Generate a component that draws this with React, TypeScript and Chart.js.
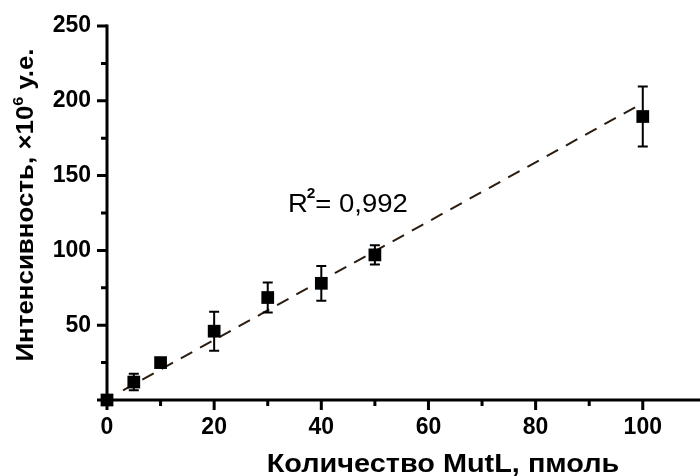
import React, { useEffect, useRef } from "react";
import { Chart, registerables } from "chart.js";

Chart.register(...registerables);

// ---- data ----
const xValues = [0, 5, 10, 20, 30, 40, 50, 100];
const yValues = [0, 12, 25, 46, 68.5, 78, 97, 189.5];
const yErrors = [0, 5.5, 1.5, 13, 10, 11.6, 6.5, 20];
const fitX = [3, 100];
const fitY = [6.5, 198.5];
const xTickLabels = [0, 20, 40, 60, 80, 100];
const xMinorTicks = [10, 30, 50, 70, 90];
const yTickLabels = [50, 100, 150, 200, 250];
const yMajorTicks = [0, 50, 100, 150, 200, 250];
const yMinorTicks = [25, 75, 125, 175, 225];
const xTitle = "Количество MutL, пмоль";
const yTitleParts = ["Интенсивность, ×10", "6", " у.е."];
const r2Parts = ["R", "2", "= 0,992"];

const FONT = "'Liberation Sans', Arial, sans-serif";

type Part = { text: string; font: string; dy: number; dx?: number };

function partsWidth(ctx: CanvasRenderingContext2D, parts: Part[]) {
  let w = 0;
  for (const p of parts) {
    ctx.font = p.font;
    w += ctx.measureText(p.text).width + (p.dx || 0);
  }
  return w;
}

function drawParts(ctx: CanvasRenderingContext2D, parts: Part[], x: number, y: number) {
  let cx = x;
  for (const p of parts) {
    cx += p.dx || 0;
    ctx.font = p.font;
    ctx.fillText(p.text, cx, y + p.dy);
    cx += ctx.measureText(p.text).width;
  }
}

const decorPlugin = {
  id: "decor",
  afterDatasetsDraw(chart: any) {
    const ctx: CanvasRenderingContext2D = chart.ctx;
    const xs = chart.scales.x;
    const ys = chart.scales.y;
    ctx.save();
    ctx.strokeStyle = "#000";
    ctx.lineWidth = 2;
    xValues.forEach((xv, i) => {
      const e = yErrors[i];
      if (!e) return;
      const px = xs.getPixelForValue(xv);
      const top = ys.getPixelForValue(yValues[i] + e);
      const bot = ys.getPixelForValue(yValues[i] - e);
      ctx.beginPath();
      ctx.moveTo(px, top);
      ctx.lineTo(px, bot);
      ctx.moveTo(px - 5, top);
      ctx.lineTo(px + 5, top);
      ctx.moveTo(px - 5, bot);
      ctx.lineTo(px + 5, bot);
      ctx.stroke();
    });
    ctx.restore();
  },
  afterDraw(chart: any) {
    const ctx: CanvasRenderingContext2D = chart.ctx;
    const xs = chart.scales.x;
    const ys = chart.scales.y;
    const area = chart.chartArea;
    ctx.save();
    ctx.strokeStyle = "#000";
    ctx.fillStyle = "#000";
    ctx.lineWidth = 3;
    ctx.lineCap = "butt";
    // axis lines
    ctx.beginPath();
    ctx.moveTo(area.left, ys.getPixelForValue(250) - 1.5);
    ctx.lineTo(area.left, area.bottom + 1.5);
    ctx.moveTo(area.left - 1.5, area.bottom);
    ctx.lineTo(chart.width, area.bottom);
    ctx.stroke();
    // ticks
    ctx.beginPath();
    yMajorTicks.forEach((v) => {
      const py = ys.getPixelForValue(v);
      ctx.moveTo(area.left, py);
      ctx.lineTo(area.left - 10, py);
    });
    yMinorTicks.forEach((v) => {
      const py = ys.getPixelForValue(v);
      ctx.moveTo(area.left, py);
      ctx.lineTo(area.left - 6, py);
    });
    xTickLabels.forEach((v) => {
      const px = xs.getPixelForValue(v);
      ctx.moveTo(px, area.bottom);
      ctx.lineTo(px, area.bottom + 10);
    });
    xMinorTicks.forEach((v) => {
      const px = xs.getPixelForValue(v);
      ctx.moveTo(px, area.bottom);
      ctx.lineTo(px, area.bottom + 6);
    });
    ctx.stroke();

    // x title
    ctx.textBaseline = "alphabetic";
    ctx.textAlign = "center";
    ctx.font = `bold 26px ${FONT}`;
    ctx.save();
    ctx.translate(443, 472);
    ctx.scale(1.11, 1);
    ctx.fillText(xTitle, 0, 0);
    ctx.restore();

    // y title (rotated)
    ctx.textAlign = "left";
    const yParts: Part[] = [
      { text: yTitleParts[0], font: `bold 24px ${FONT}`, dy: 0 },
      { text: yTitleParts[1], font: `bold 15px ${FONT}`, dy: -10 },
      { text: yTitleParts[2], font: `bold 24px ${FONT}`, dy: 0 },
    ];
    const yw = partsWidth(ctx, yParts);
    ctx.save();
    ctx.translate(33, 205);
    ctx.rotate(-Math.PI / 2);
    ctx.scale(1.08, 1);
    drawParts(ctx, yParts, -yw / 2, 0);
    ctx.restore();

    // R^2 annotation
    const rParts: Part[] = [
      { text: r2Parts[0], font: `25px ${FONT}`, dy: 0 },
      { text: r2Parts[1], font: `bold 14px ${FONT}`, dy: -14, dx: -1 },
      { text: r2Parts[2], font: `25px ${FONT}`, dy: 0, dx: 0 },
    ];
    ctx.save();
    ctx.translate(288, 212);
    ctx.scale(1.1, 1);
    drawParts(ctx, rParts, 0, 0);
    ctx.restore();

    ctx.restore();
  },
};

export default function App() {
  const ref = useRef<HTMLCanvasElement | null>(null);
  useEffect(() => {
    if (!ref.current) return;
    const chart = new Chart(ref.current, {
      type: "scatter",
      data: {
        datasets: [
          {
            type: "scatter",
            data: xValues.map((x, i) => ({ x, y: yValues[i] })),
            pointStyle: "rect",
            pointRadius: 9,
            pointHoverRadius: 9,
            backgroundColor: "#000",
            borderColor: "#000",
            borderWidth: 0,
            clip: false,
            order: 0,
          } as any,
          {
            type: "line",
            data: fitX.map((x, i) => ({ x, y: fitY[i] })),
            borderColor: "#2a1c10",
            borderWidth: 2,
            borderDash: [13, 9],
            pointRadius: 0,
            fill: false,
            order: 1,
          } as any,
        ],
      },
      options: {
        responsive: false,
        animation: false,
        events: [],
        layout: { padding: { top: 26, left: 0, right: 0, bottom: 0 } },
        plugins: {
          legend: { display: false },
          tooltip: { enabled: false },
        },
        scales: {
          x: {
            type: "linear",
            min: 0,
            max: 109,
            afterBuildTicks: (s: any) => {
              s.ticks = xTickLabels.map((v) => ({ value: v }));
            },
            afterFit: (s: any) => {
              s.height = 76;
            },
            grid: { display: false, drawTicks: true, tickLength: 10 },
            border: { display: false },
            ticks: {
              autoSkip: false,
              maxRotation: 0,
              padding: 4,
              color: "#000",
              font: { family: FONT, size: 23, weight: "bold" },
              callback: (v: any) => String(v),
            },
          },
          y: {
            type: "linear",
            min: 0,
            max: 250,
            afterBuildTicks: (s: any) => {
              s.ticks = yMajorTicks.map((v) => ({ value: v }));
            },
            afterFit: (s: any) => {
              s.width = 107;
            },
            grid: { display: false, drawTicks: true, tickLength: 10 },
            border: { display: false },
            ticks: {
              autoSkip: false,
              padding: 6,
              color: "#000",
              font: { family: FONT, size: 23, weight: "bold" },
              callback: (v: any) => (yTickLabels.includes(Number(v)) ? String(v) : ""),
            },
          },
        },
      },
      plugins: [decorPlugin],
    });
    return () => chart.destroy();
  }, []);
  return (
    <div style={{ position: "fixed", left: 0, top: 0, width: 700, height: 476, background: "#fff" }}>
      <canvas ref={ref} width={700} height={476} style={{ display: "block" }} />
    </div>
  );
}
